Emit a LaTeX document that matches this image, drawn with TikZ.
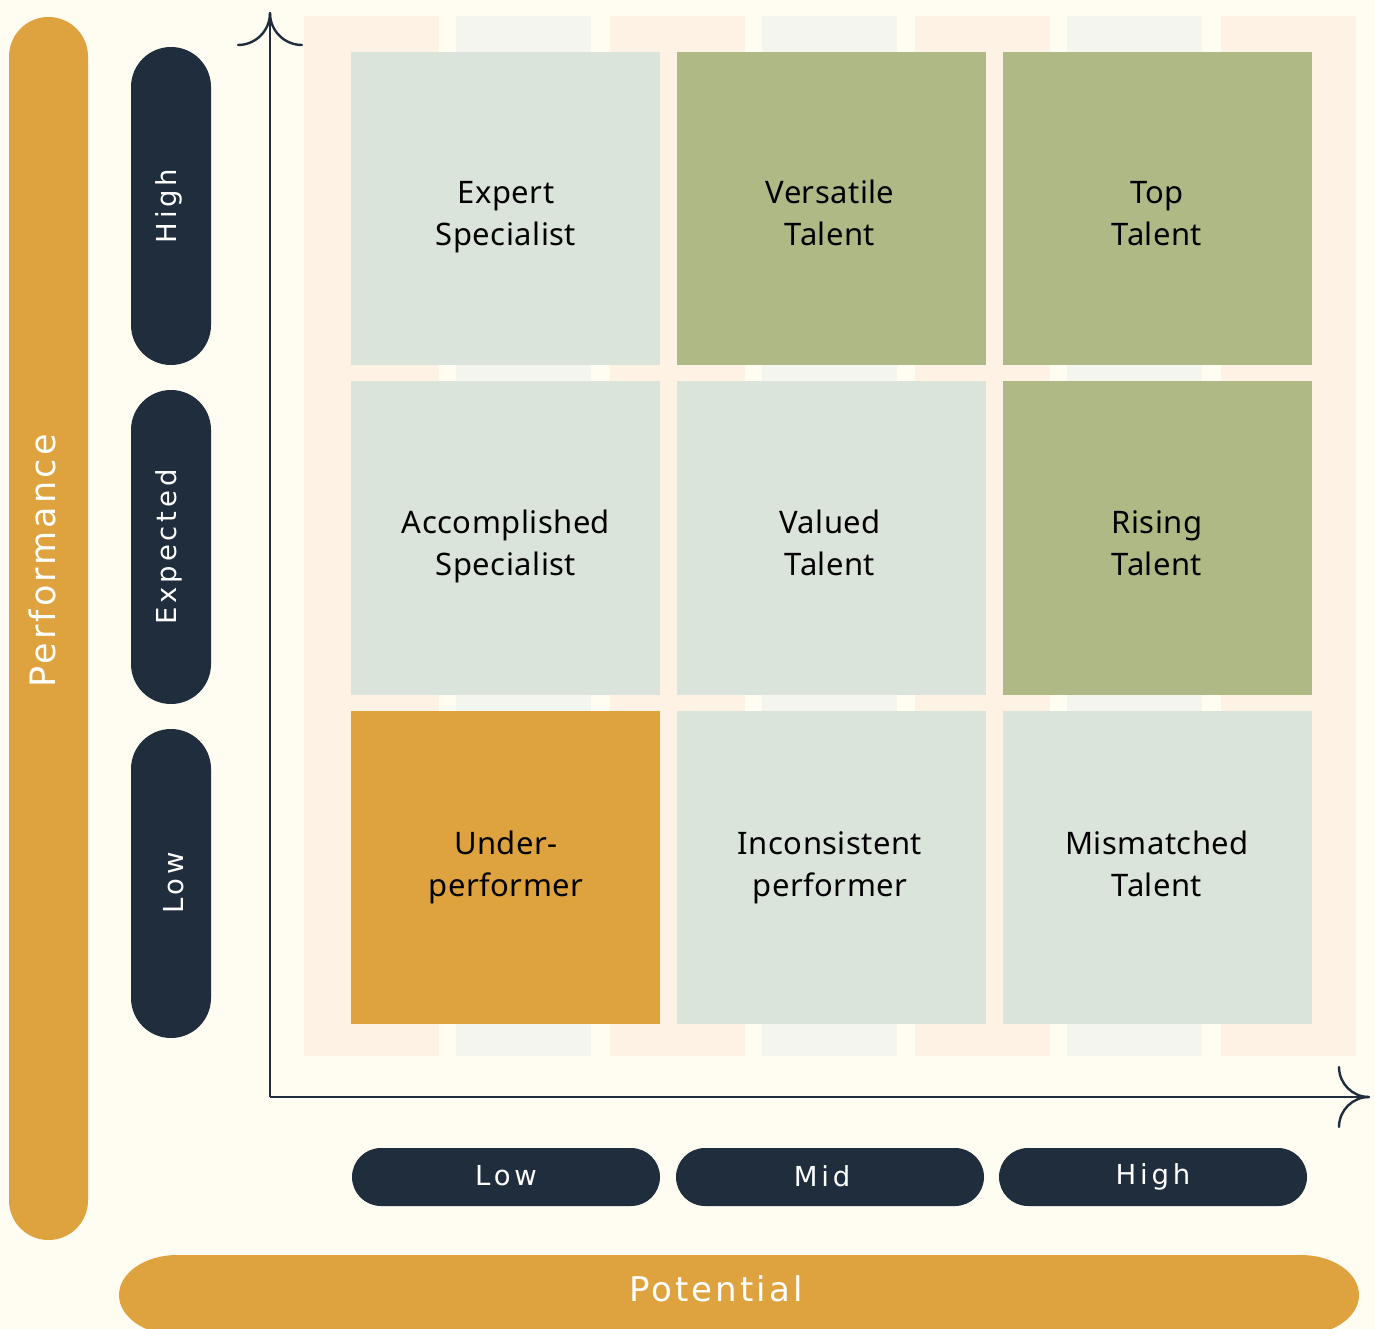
\documentclass[tikz,border=0pt]{standalone}
\usepackage{fontspec}
\setmainfont{Noto Sans}[LetterSpace=1.5]
\newfontfamily\labelfont{DejaVu Sans}[LetterSpace=9]
\newfontfamily\levelfont{DejaVu Sans}[LetterSpace=14]
\definecolor{paper}{HTML}{FFFCF2}
\definecolor{peach}{HTML}{FDF2E3}
\definecolor{mint}{HTML}{F4F5EE}
\definecolor{sage}{HTML}{DAE4DB}
\definecolor{olive}{HTML}{AFB985}
\definecolor{amber}{HTML}{DEA33E}
\definecolor{navy}{HTML}{1F2D3D}
\newcommand{\twolines}[2]{\strut #1\\\strut #2}
\begin{document}
\begin{tikzpicture}[x=1pt,y=-1pt,
  cellbox/.style={draw=none,inner sep=0pt,minimum width=309pt,minimum height=313pt,anchor=north west},
  celltext/.style={align=center,inner sep=0pt,text=black,font=\fontsize{31}{42}\selectfont},
  axistext/.style={text=white,inner sep=0pt,font=\levelfont\fontsize{27.5}{32}\selectfont},
  bigtext/.style={text=white,inner sep=0pt,font=\labelfont\fontsize{35}{40}\selectfont},
  axisline/.style={draw=navy,line width=2pt},
  tipline/.style={draw=navy,line width=2.4pt,line cap=round}]

% page
\fill[paper] (0,0) rectangle (1375,1329);
\useasboundingbox (0,0) rectangle (1375,1329);

% column stripes behind the grid
\foreach \i in {0,1,2,3} {
  \fill[peach] ({304+305.67*\i},16) rectangle ++(135,1040);
}
\foreach \i in {0,1,2} {
  \fill[mint] ({456+305.67*\i},16) rectangle ++(135,1040);
}

% grid cells
\node[cellbox,fill=sage]  (c11) at (351,52)  {};
\node[cellbox,fill=olive] (c12) at (677,52)  {};
\node[cellbox,fill=olive] (c13) at (1003,52) {};
\node[cellbox,fill=sage,minimum height=314pt]  (c21) at (351,381)  {};
\node[cellbox,fill=sage,minimum height=314pt]  (c22) at (677,381)  {};
\node[cellbox,fill=olive,minimum height=314pt] (c23) at (1003,381) {};
\node[cellbox,fill=amber] (c31) at (351,711)  {};
\node[cellbox,fill=sage]  (c32) at (677,711)  {};
\node[cellbox,fill=sage]  (c33) at (1003,711) {};

% cell labels
\node[celltext] (t11) at (506,216)  {\twolines{Expert}{Specialist}};
\node[celltext] (t12) at (830,216)  {\twolines{Versatile}{Talent}};
\node[celltext] (t13) at (1157,216) {\twolines{Top}{Talent}};
\node[celltext] (t21) at (506,546)  {\twolines{Accomplished}{Specialist}};
\node[celltext] (t22) at (830,546)  {\twolines{Valued}{Talent}};
\node[celltext] (t23) at (1157,546) {\twolines{Rising}{Talent}};
\node[celltext] (t31) at (506,867)  {\twolines{Under-}{performer}};
\node[celltext] (t32) at (830,867)  {\twolines{Inconsistent}{performer}};
\node[celltext] (t33) at (1157,867) {\twolines{Mismatched}{Talent}};

% axes with open curved tips
\coordinate (o) at (270,1097);
\coordinate (ytip) at (270,13);
\coordinate (xtip) at (1369,1097);
\draw[axisline] (o) -- (ytip);
\draw[axisline] (o) -- (xtip);
\draw[tipline] (ytip) arc[start angle=0,end angle=-90,radius=32pt];
\draw[tipline] (ytip) arc[start angle=180,end angle=270,radius=32pt];
\draw[tipline] (xtip) arc[start angle=270,end angle=180,radius=30pt];
\draw[tipline] (xtip) arc[start angle=90,end angle=180,radius=30pt];

% Performance band
\fill[amber,rounded corners=39.5pt] (9,17) rectangle (88,1240);
\node[bigtext,rotate=90] (perf) at (42,561) {Performance};

% Potential band with stretched round ends
\fill[amber] (177,1255) -- (1301,1255)
  arc[start angle=90,end angle=-90,x radius=58pt,y radius=40pt]
  -- (177,1335)
  arc[start angle=270,end angle=90,x radius=58pt,y radius=40pt] -- cycle;
\node[bigtext,font=\labelfont\fontsize{34}{40}\selectfont] (pot) at (716,1289) {Potential};

% performance levels
\fill[navy,rounded corners=40pt] (131,47)  rectangle (211,365);
\fill[navy,rounded corners=40pt] (131,390) rectangle (211,704);
\fill[navy,rounded corners=40pt] (131,729) rectangle (211,1038);
\node[axistext,rotate=90] (pHigh) at (169,206) {High};
\node[axistext,rotate=90] (pExp)  at (169,547) {Expected};
\node[axistext,rotate=90] (pLow)  at (174,883) {Low};

% potential levels
\fill[navy,rounded corners=29pt] (352,1148) rectangle (660,1206);
\fill[navy,rounded corners=29pt] (676,1148) rectangle (984,1206);
\fill[navy,rounded corners=29pt] (999,1148) rectangle (1307,1206);
\node[axistext] (qLow)  at (506,1176)  {Low};
\node[axistext] (qMid)  at (822,1176)  {Mid};
\node[axistext] (qHigh) at (1153,1177) {High};
\end{tikzpicture}
\end{document}
